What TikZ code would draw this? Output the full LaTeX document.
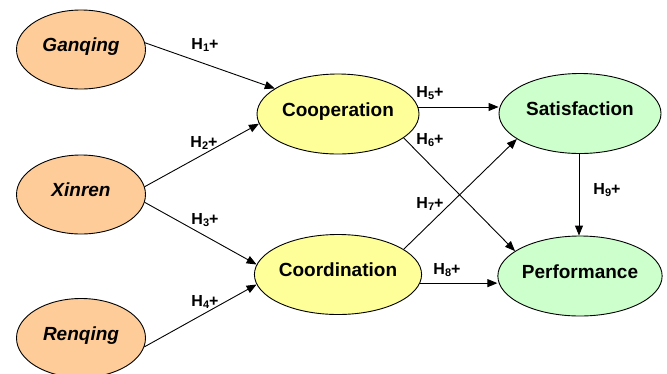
\documentclass[tikz,border=0pt]{standalone}
\usepackage{fontspec}
\setmainfont{Liberation Sans}
\usetikzlibrary{shapes.geometric,arrows.meta}
\definecolor{peach}{HTML}{FDCC99}
\definecolor{paleyel}{HTML}{FFFF99}
\definecolor{palegrn}{HTML}{CCFFCC}
\newcommand{\hyp}[1]{H\raisebox{-0.25ex}{\fontsize{11}{12}\selectfont #1}+}
\tikzset{
  blob/.style={ellipse, draw=black, line width=0.9pt, inner sep=0pt,
    font=\fontsize{19}{22}\selectfont\bfseries, text height=12pt, text depth=8pt},
  leftblob/.style={blob, fill=peach, minimum width=129pt, minimum height=79pt,
    font=\fontsize{19}{22}\selectfont\bfseries\itshape},
  midblob/.style={blob, fill=paleyel, minimum width=162pt, minimum height=80pt},
  rightblob/.style={blob, fill=palegrn, minimum width=162pt, minimum height=80pt},
  arr/.style={-{Triangle[length=10pt,width=8pt]}, line width=0.9pt},
  hlab/.style={font=\fontsize{16}{18}\selectfont\bfseries, inner sep=0pt}
}
\begin{document}
\begin{tikzpicture}[x=1pt,y=-1pt]
\useasboundingbox (0,0) rectangle (667,373);
\node[leftblob] (gan) at (81,49.5) {Ganqing};
\node[leftblob] (xin) at (81,194.5) {Xinren};
\node[leftblob] (ren) at (81,338) {Renqing};
\node[midblob] (coop) at (338,114) {Cooperation};
\node[midblob] (coord) at (338,274.5) {Coordination};
\node[rightblob] (sat) at (580,113.5) {Satisfaction};
\node[rightblob] (perf) at (580,276) {Performance};

\draw[arr] (gan.6) -- (coop.158);
\draw[arr] (xin.7) -- (coop.187);
\draw[arr] (xin.353) -- (coord.173);
\draw[arr] (ren.352) -- (coord.187);
\draw[arr] (coop.5) -- (coop.5 -| sat.west);
\draw[arr] (coop.340) -- (perf.159);
\draw[arr] (coord.21) -- (sat.202);
\draw[arr] (coord.354) -- (coord.354 -| perf.west);
\draw[arr] (sat.south -| 579,0) -- (perf.north -| 579,0);

\node[hlab] (h1) at (205,45) {\hyp{1}};
\node[hlab] (h2) at (204,143) {\hyp{2}};
\node[hlab] (h3) at (205,220) {\hyp{3}};
\node[hlab] (h4) at (205,302) {\hyp{4}};
\node[hlab] (h5) at (430,93) {\hyp{5}};
\node[hlab] (h6) at (430,140) {\hyp{6}};
\node[hlab] (h7) at (430,204) {\hyp{7}};
\node[hlab] (h8) at (447,270) {\hyp{8}};
\node[hlab] (h9) at (607,190) {\hyp{9}};
\end{tikzpicture}
\end{document}
